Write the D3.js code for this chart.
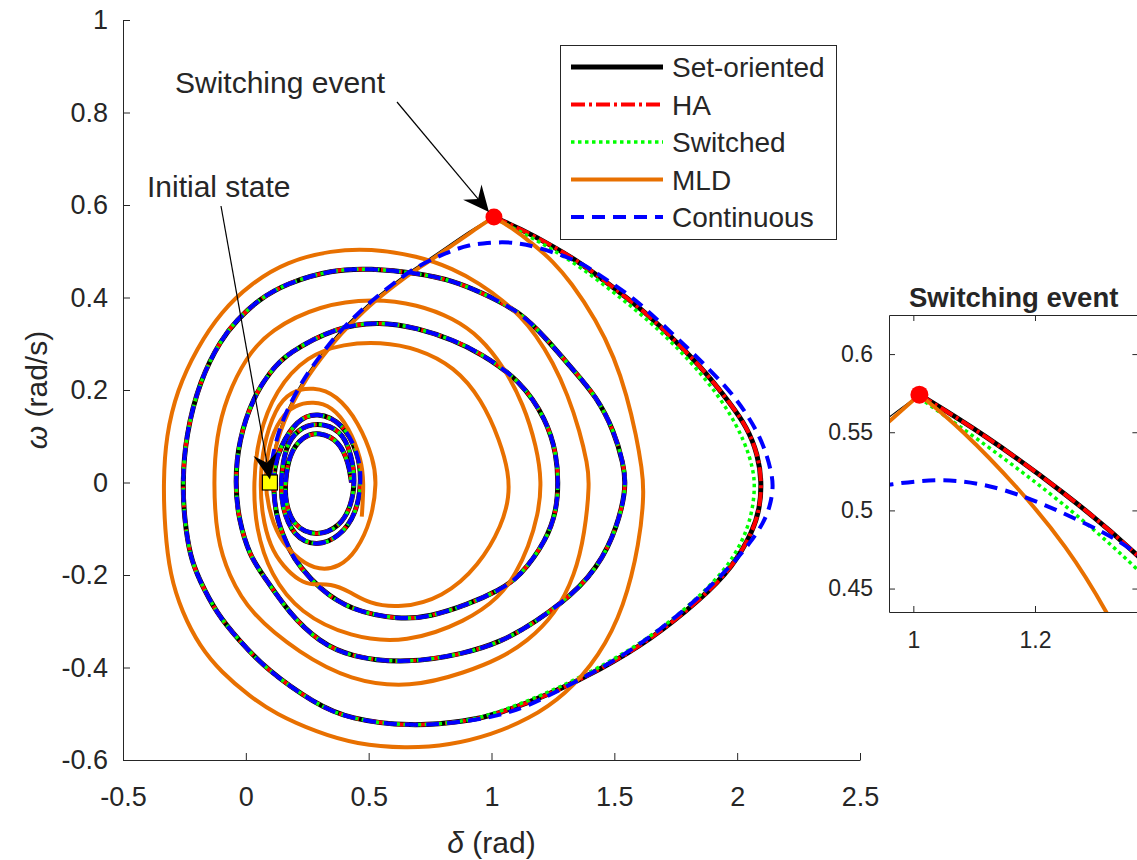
<!DOCTYPE html>
<html><head><meta charset="utf-8">
<script src="https://cdn.jsdelivr.net/npm/d3@7"></script>
<style>
body{margin:0;background:#fff}
svg{display:block}
text{font-family:"Liberation Sans",Arial,Helvetica,sans-serif;fill:#262626}
</style>
</head><body>
<svg id="chart" width="1137" height="860"></svg>
<script>
// ---------------- DATA (delta [rad], omega [rad/s]) ----------------
const xTicks = [-0.5, 0, 0.5, 1, 1.5, 2, 2.5];
const xTickLabels = ["-0.5", "0", "0.5", "1", "1.5", "2", "2.5"];
const yTicks = [-0.6, -0.4, -0.2, 0, 0.2, 0.4, 0.6, 0.8, 1];
const yTickLabels = ["-0.6", "-0.4", "-0.2", "0", "0.2", "0.4", "0.6", "0.8", "1"];
const insetXTicks = [1, 1.2];
const insetXTickLabels = ["1", "1.2"];
const insetYTicks = [0.45, 0.5, 0.55, 0.6];
const insetYTickLabels = ["0.45", "0.5", "0.55", "0.6"];

const seriesNames = ["Set-oriented", "HA", "Switched", "MLD", "Continuous"];
const initialState = [0.098, 0];
const switchingState = [1.01, 0.574];

// fault-on trajectory (thin black line)
const faultOn = [[0.098,0],[0.102,0.03],[0.11,0.06],[0.126,0.095],[0.15,0.135],[0.19,0.18],[0.24,0.228],[0.3,0.272],[0.37,0.32],[0.44,0.357],[0.505,0.39],[0.6,0.43],[0.668,0.457],[0.736,0.48],[0.845,0.52],[0.912,0.544],[0.96,0.56],[1.01,0.574]];

// post-switch first half-swing of the set-oriented / HA trajectory
const setOrientedHead = [[1.01,0.574],[1.115,0.549],[1.25,0.511],[1.365,0.474],[1.5,0.42],[1.632,0.366],[1.76,0.3],[1.876,0.236],[1.97,0.172],[2.04,0.12],[2.085,0.06],[2.1,0.0],[2.092,-0.055],[2.066,-0.103],[1.984,-0.182],[1.849,-0.254],[1.645,-0.341],[1.441,-0.405],[1.238,-0.458],[1.035,-0.499]];

// switched model, first half-swing
const switchedHead = [[1.01,0.572],[1.131,0.5386],[1.241,0.5064],[1.365,0.465],[1.5,0.41],[1.63,0.355],[1.76,0.29],[1.87,0.225],[1.96,0.16],[2.03,0.09],[2.065,0.03],[2.073,-0.01],[2.06,-0.07],[2.02,-0.13],[1.95,-0.19],[1.83,-0.255],[1.645,-0.336],[1.441,-0.4],[1.238,-0.453],[1.035,-0.496]];

// continuous model, from initial state through first half-swing
const continuousHead = [[0.098,0],[0.102,0.03],[0.11,0.06],[0.126,0.095],[0.15,0.135],[0.19,0.18],[0.24,0.228],[0.3,0.272],[0.37,0.32],[0.44,0.357],[0.505,0.39],[0.6,0.43],[0.68,0.462],[0.763,0.484],[0.845,0.503],[0.912,0.5135],[0.96,0.5166],[1.044,0.5205],[1.116,0.517],[1.186,0.509],[1.296,0.4896],[1.365,0.4747],[1.45,0.445],[1.577,0.4],[1.7,0.34],[1.822,0.279],[1.957,0.207],[2.039,0.15],[2.107,0.085],[2.141,0.02],[2.147,-0.01],[2.135,-0.05],[2.107,-0.088],[2.052,-0.131],[1.984,-0.175],[1.849,-0.247],[1.686,-0.319],[1.509,-0.384],[1.306,-0.441],[1.143,-0.485],[1.035,-0.503]];

// common spiral shared by set-oriented, HA, switched and continuous models
const commonTail = [[0.899,-0.517],[0.668,-0.528],[0.424,-0.512],[0.28,-0.478],[0.085,-0.405],[-0.03,-0.34],[-0.119,-0.283],[-0.19,-0.21],[-0.227,-0.16],[-0.25,-0.08],[-0.258,0],[-0.245,0.1],[-0.187,0.222],[-0.1,0.31],[-0.037,0.351],[0.05,0.395],[0.166,0.431],[0.35,0.46],[0.505,0.463],[0.7,0.453],[0.845,0.436],[0.953,0.412],[1.116,0.37],[1.225,0.31],[1.33,0.245],[1.428,0.1855],[1.5,0.11],[1.537,0.04],[1.546,0],[1.535,-0.05],[1.482,-0.139],[1.374,-0.225],[1.17,-0.306],[1.035,-0.345],[0.899,-0.369],[0.654,-0.392],[0.424,-0.377],[0.3,-0.345],[0.179,-0.285],[0.07,-0.2],[0.017,-0.16],[-0.03,-0.08],[-0.044,0],[-0.03,0.09],[0.031,0.186],[0.1,0.24],[0.166,0.279],[0.37,0.337],[0.546,0.348],[0.7,0.334],[0.845,0.308],[0.953,0.28],[1.116,0.222],[1.225,0.135],[1.265,0.06],[1.272,0.0],[1.265,-0.06],[1.225,-0.124],[1.116,-0.204],[1.035,-0.232],[0.899,-0.265],[0.75,-0.29],[0.628,-0.297],[0.424,-0.276],[0.3,-0.23],[0.22,-0.182],[0.18,-0.15],[0.125,-0.081],[0.112,-0.016],[0.115,0.03],[0.139,0.077],[0.207,0.135],[0.289,0.153],[0.397,0.128],[0.458,0.063],[0.472,0.005],[0.451,-0.067],[0.383,-0.117],[0.289,-0.139],[0.193,-0.117],[0.146,-0.052],[0.142,0.005],[0.16,0.077],[0.21,0.115],[0.289,0.131],[0.39,0.1135],[0.43,0.06],[0.445,0.005],[0.43,-0.05],[0.383,-0.096],[0.289,-0.117],[0.193,-0.096],[0.16,-0.04],[0.16,0.0],[0.175,0.06],[0.23,0.1],[0.3,0.11],[0.38,0.09],[0.42,0.04],[0.43,0.0]];

// MLD model: fault-on part and post-switch part
const mldFaultOn = [[0.1,-0.002],[0.105,0.028],[0.114,0.058],[0.13,0.093],[0.155,0.132],[0.195,0.177],[0.245,0.224],[0.305,0.268],[0.375,0.315],[0.445,0.352],[0.51,0.386],[0.605,0.426],[0.672,0.453],[0.74,0.476],[0.848,0.516],[0.914,0.54],[0.96,0.557],[1.01,0.574]];
const mldPostSwitch = [[1.01,0.574],[1.077,0.553],[1.176,0.513],[1.25,0.478],[1.321,0.435],[1.428,0.35],[1.5,0.27],[1.55,0.19],[1.59,0.1],[1.612,0.03],[1.622,-0.02],[1.603,-0.13],[1.54,-0.27],[1.44,-0.375],[1.3,-0.46],[1.15,-0.512],[1.0,-0.545],[0.831,-0.568],[0.65,-0.575],[0.45,-0.566],[0.289,-0.54],[0.12,-0.5],[0.017,-0.463],[-0.1,-0.41],[-0.187,-0.355],[-0.26,-0.28],[-0.309,-0.2],[-0.33,-0.1],[-0.336,0],[-0.325,0.1],[-0.28,0.2],[-0.2,0.29],[-0.1,0.37],[0.02,0.43],[0.166,0.478],[0.35,0.502],[0.505,0.506],[0.7,0.49],[0.845,0.462],[0.953,0.43],[1.05,0.392],[1.116,0.36],[1.18,0.32],[1.25,0.26],[1.31,0.19],[1.36,0.11],[1.39,0.04],[1.4,0.0],[1.38,-0.11],[1.34,-0.2],[1.26,-0.285],[1.143,-0.345],[1.035,-0.38],[0.899,-0.41],[0.668,-0.445],[0.424,-0.428],[0.22,-0.37],[0.017,-0.283],[-0.07,-0.2],[-0.119,-0.12],[-0.132,0],[-0.12,0.1],[-0.078,0.1855],[0.0,0.27],[0.098,0.33],[0.302,0.384],[0.519,0.398],[0.7,0.385],[0.845,0.355],[0.953,0.315],[1.05,0.25],[1.13,0.17],[1.184,0.077],[1.205,0.0],[1.19,-0.07],[1.15,-0.14],[1.1,-0.196],[1.035,-0.247],[0.899,-0.3],[0.654,-0.348],[0.424,-0.335],[0.22,-0.283],[0.1,-0.2],[0.04,-0.1],[0.03,0],[0.05,0.1],[0.12,0.2],[0.25,0.275],[0.4,0.3],[0.546,0.304],[0.7,0.29],[0.85,0.25],[0.96,0.18],[1.035,0.09],[1.07,0.02],[1.072,-0.03],[1.045,-0.09],[0.95,-0.18],[0.8,-0.25],[0.628,-0.272],[0.5,-0.262],[0.424,-0.236],[0.343,-0.218],[0.275,-0.222],[0.22,-0.214],[0.153,-0.182],[0.098,-0.139],[0.065,-0.067],[0.058,0],[0.07,0.08],[0.12,0.16],[0.18,0.197],[0.275,0.207],[0.37,0.19],[0.46,0.13],[0.52,0.05],[0.533,0],[0.512,-0.081],[0.45,-0.15],[0.38,-0.183],[0.3,-0.19],[0.22,-0.17],[0.13,-0.12],[0.09,-0.05],[0.078,0],[0.09,0.08],[0.14,0.14],[0.2,0.168],[0.275,0.175],[0.35,0.165],[0.42,0.12],[0.47,0.05],[0.481,0],[0.472,-0.074]];

const setOriented = setOrientedHead.concat(commonTail);
const ha = setOrientedHead.concat(commonTail);
const switched = switchedHead.concat(commonTail);
const continuous = continuousHead.concat(commonTail);

// ---------------- STYLES ----------------
const styles = {
  "Set-oriented": {color:"#000000", width:5, dash:null},
  "HA":           {color:"#ff0000", width:4, dash:"14,4,3,4"},
  "Switched":     {color:"#00ff00", width:3.5, dash:"3.5,3.5"},
  "MLD":          {color:"#e87000", width:4, dash:null},
  "Continuous":   {color:"#0000ff", width:4, dash:"13,8"}
};
// each series as one or more path segments (MLD has a corner at the switching event)
const seriesSegments = {
  "Set-oriented": [setOriented],
  "HA": [ha],
  "Switched": [switched],
  "MLD": [mldFaultOn, mldPostSwitch],
  "Continuous": [continuous]
};
const axisColor = "#262626";

const svg = d3.select("#chart");

// ---------------- MAIN AXES ----------------
const M = {left:123, right:860, top:20, bottom:760};
const x = d3.scaleLinear().domain([-0.5, 2.5]).range([M.left, M.right]);
const y = d3.scaleLinear().domain([-0.6, 1]).range([M.bottom, M.top]);

const defs = svg.append("defs");
defs.append("clipPath").attr("id","clipMain").append("rect")
  .attr("x", M.left).attr("y", M.top).attr("width", M.right-M.left).attr("height", M.bottom-M.top);

function styleAxis(g, fs){
  g.selectAll("path.domain").attr("stroke", axisColor).attr("stroke-width",1);
  g.selectAll(".tick line").attr("stroke", axisColor).attr("stroke-width",1);
  g.selectAll(".tick text").attr("fill", axisColor).style("font-size", fs+"px")
    .style("font-family",'"Liberation Sans",Arial,Helvetica,sans-serif');
}

const gx = svg.append("g").attr("transform", `translate(0,${M.bottom})`)
  .call(d3.axisBottom(x).tickValues(xTicks).tickFormat((d,i)=>xTickLabels[i])
    .tickSizeInner(-7).tickSizeOuter(0).tickPadding(27));
styleAxis(gx, 27);
const gy = svg.append("g").attr("transform", `translate(${M.left},0)`)
  .call(d3.axisLeft(y).tickValues(yTicks).tickFormat((d,i)=>yTickLabels[i])
    .tickSizeInner(-7).tickSizeOuter(0).tickPadding(15));
styleAxis(gy, 27);

const line = (sx, sy) => d3.line().x(d=>sx(d[0])).y(d=>sy(d[1])).curve(d3.curveBasis);

function drawSeries(parent, sx, sy){
  const L = line(sx, sy);
  parent.append("path").attr("d", L(faultOn)).attr("fill","none")
    .attr("stroke","#000").attr("stroke-width",1.2);
  seriesNames.forEach(name=>{
    const s = styles[name];
    seriesSegments[name].forEach(seg=>{
      parent.append("path").attr("d", L(seg)).attr("fill","none")
        .attr("stroke", s.color).attr("stroke-width", s.width)
        .attr("stroke-dasharray", s.dash).attr("stroke-linejoin","round");
    });
  });
}

const plotMain = svg.append("g").attr("clip-path","url(#clipMain)");
drawSeries(plotMain, x, y);

// markers
svg.append("rect").attr("x", x(initialState[0])-7.5).attr("y", y(initialState[1])-7.5)
  .attr("width",15).attr("height",15).attr("fill","#ffff00").attr("stroke","#000").attr("stroke-width",1.2);
svg.append("circle").attr("cx", x(switchingState[0])).attr("cy", y(switchingState[1])).attr("r",8.5)
  .attr("fill","#ff0000");

// axis labels
svg.append("text").attr("x", (M.left+M.right)/2).attr("y", 853).attr("text-anchor","middle")
  .style("font-size","30px").attr("fill","#262626")
  .html('<tspan font-style="italic">δ</tspan> (rad)');
svg.append("text").attr("transform", `translate(47,${(M.top+M.bottom)/2}) rotate(-90)`).attr("text-anchor","middle")
  .style("font-size","30px").attr("fill","#262626")
  .html('<tspan font-style="italic">ω</tspan> (rad/s)');

// ---------------- ANNOTATIONS ----------------
function arrow(x0, y0, x1, y1){
  const dx = x1-x0, dy = y1-y0, L = Math.hypot(dx,dy);
  const ux = dx/L, uy = dy/L, px = -uy, py = ux;
  const len = 26, hw = 12, notch = 17;
  svg.append("line").attr("x1",x0).attr("y1",y0).attr("x2",x1-ux*notch).attr("y2",y1-uy*notch)
    .attr("stroke","#000").attr("stroke-width",1.2);
  const pts = [[x1,y1],[x1-ux*len+px*hw, y1-uy*len+py*hw],[x1-ux*notch, y1-uy*notch],[x1-ux*len-px*hw, y1-uy*len-py*hw]];
  svg.append("path").attr("d","M"+pts.map(p=>p.join(",")).join("L")+"Z").attr("fill","#000");
}
svg.append("text").attr("x",175).attr("y",93).style("font-size","30px").attr("fill","#000").text("Switching event");
svg.append("text").attr("x",147).attr("y",197).style("font-size","30px").attr("fill","#000").text("Initial state");
arrow(397, 102, x(switchingState[0])-5, y(switchingState[1])-5);
arrow(221, 206, x(initialState[0]), y(initialState[1])-3);

// ---------------- LEGEND ----------------
const lg = svg.append("g");
lg.append("rect").attr("x",560.5).attr("y",45.5).attr("width",276).attr("height",194)
  .attr("fill","#fff").attr("stroke",axisColor).attr("stroke-width",1);
seriesNames.forEach((name,i)=>{
  const s = styles[name];
  const yy = 67 + i*37.5;
  lg.append("line").attr("x1",571).attr("x2",663).attr("y1",yy).attr("y2",yy)
    .attr("stroke", s.color).attr("stroke-width", s.width).attr("stroke-dasharray", s.dash);
  lg.append("text").attr("x",672).attr("y",yy).attr("dy","0.36em").style("font-size","28px")
    .attr("fill","#000").text(name);
});

// ---------------- INSET ----------------
const I = {left:889, right:1138.4, top:315, bottom:612};
const xi = d3.scaleLinear().domain([0.96, 1.37]).range([I.left, I.right]);
const yi = d3.scaleLinear().domain([0.435, 0.625]).range([I.bottom, I.top]);
defs.append("clipPath").attr("id","clipInset").append("rect")
  .attr("x", I.left).attr("y", I.top).attr("width", I.right-I.left).attr("height", I.bottom-I.top);
svg.append("rect").attr("x",I.left).attr("y",I.top).attr("width",I.right-I.left).attr("height",I.bottom-I.top).attr("fill","#fff");
const plotInset = svg.append("g").attr("clip-path","url(#clipInset)");
drawSeries(plotInset, xi, yi);
plotInset.append("circle").attr("cx", xi(switchingState[0])).attr("cy", yi(switchingState[1])).attr("r",9)
  .attr("fill","#ff0000");

const gxi = svg.append("g").attr("transform", `translate(0,${I.bottom})`)
  .call(d3.axisBottom(xi).tickValues(insetXTicks).tickFormat((d,i)=>insetXTickLabels[i])
    .tickSizeInner(-6).tickSizeOuter(0).tickPadding(20));
styleAxis(gxi, 23);
const gxt = svg.append("g").attr("transform", `translate(0,${I.top})`)
  .call(d3.axisTop(xi).tickValues(insetXTicks).tickFormat("").tickSizeInner(-6).tickSizeOuter(0));
styleAxis(gxt, 23);
const gyi = svg.append("g").attr("transform", `translate(${I.left},0)`)
  .call(d3.axisLeft(yi).tickValues(insetYTicks).tickFormat((d,i)=>insetYTickLabels[i])
    .tickSizeInner(-6).tickSizeOuter(0).tickPadding(16));
styleAxis(gyi, 23);
const gyr = svg.append("g").attr("transform", `translate(${I.right},0)`)
  .call(d3.axisRight(yi).tickValues(insetYTicks).tickFormat("").tickSizeInner(-6).tickSizeOuter(0));
styleAxis(gyr, 23);
svg.append("text").attr("x",(I.left+I.right)/2).attr("y",307).attr("text-anchor","middle")
  .style("font-size","27.5px").style("font-weight","bold").attr("fill","#000").text("Switching event");
</script>
</body></html>
